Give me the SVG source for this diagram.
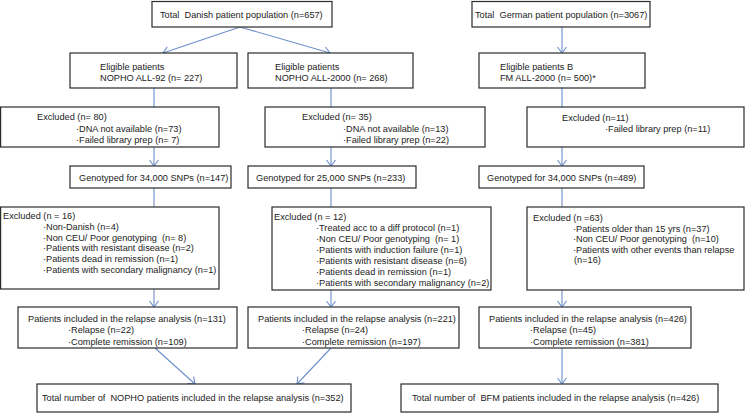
<svg xmlns="http://www.w3.org/2000/svg" width="745" height="413" viewBox="0 0 745 413" xml:space="preserve">
<style>
.box{fill:#fff;stroke:#2b2b2b;stroke-width:1.2}
text{font-family:"Liberation Sans",Arial,sans-serif;font-size:9.2px;fill:#222;white-space:pre}
.ln{stroke:#6d8fcc;stroke-width:1.1;fill:none}
.ar{marker-end:url(#arr)}
</style>
<defs>
<marker id="arr" markerUnits="userSpaceOnUse" markerWidth="12" markerHeight="12" viewBox="-8 -6 10 12" refX="0" refY="0" orient="auto">
<path d="M-6,-4.5 L0,0 L-6,4.5" fill="none" stroke="#6d8fcc" stroke-width="1.1"/>
</marker>
</defs>
<rect width="745" height="413" fill="#fff"/>
<g id="connectors">
<line class="ln ar" x1="240" y1="27" x2="163" y2="53"/>
<line class="ln ar" x1="240" y1="27" x2="330" y2="53"/>
<line class="ln ar" x1="562" y1="27" x2="562" y2="53"/>
<line class="ln" x1="154" y1="88" x2="154" y2="107"/>
<line class="ln" x1="331" y1="88" x2="331" y2="107"/>
<line class="ln" x1="562" y1="88" x2="562" y2="107"/>
<line class="ln ar" x1="154" y1="147" x2="154" y2="166"/>
<line class="ln ar" x1="331" y1="147" x2="331" y2="166"/>
<line class="ln ar" x1="562" y1="147" x2="562" y2="166"/>
<line class="ln" x1="154" y1="188" x2="154" y2="207"/>
<line class="ln" x1="331" y1="188" x2="331" y2="207"/>
<line class="ln" x1="562" y1="188" x2="562" y2="207"/>
<line class="ln ar" x1="154" y1="289" x2="154" y2="307"/>
<line class="ln ar" x1="331" y1="290" x2="331" y2="307"/>
<line class="ln ar" x1="562" y1="290" x2="562" y2="307"/>
<line class="ln ar" x1="155" y1="348" x2="195" y2="384"/>
<line class="ln ar" x1="331" y1="348" x2="297" y2="384"/>
<line class="ln ar" x1="562" y1="348" x2="562" y2="384"/>
</g>
<g id="danish_total"><rect class="box" x="152" y="1.5" width="180" height="25.5"/><text x="160" y="18">Total  Danish patient population (n=657)</text></g>
<g id="german_total"><rect class="box" x="472" y="1.5" width="178" height="25.5"/><text x="475" y="18">Total  German patient population (n=3067)</text></g>
<g id="elig92"><rect class="box" x="70" y="53" width="167" height="35"/><text x="100" y="70">Eligible patients</text><text x="100" y="81">NOPHO ALL-92 (n= 227)</text></g>
<g id="elig2000"><rect class="box" x="248" y="53" width="165" height="35"/><text x="275" y="70">Eligible patients</text><text x="275" y="81">NOPHO ALL-2000 (n= 268)</text></g>
<g id="eligB"><rect class="box" x="479" y="53" width="166" height="35"/><text x="500" y="70">Eligible patients B</text><text x="500" y="81">FM ALL-2000 (n= 500)*</text></g>
<g id="excl80"><rect class="box" x="0.6" y="107" width="218.4" height="40"/><text x="37" y="120">Excluded (n= 80)</text><text x="76" y="132">·DNA not available (n=73)</text><text x="76" y="143">·Failed library prep (n= 7)</text></g>
<g id="excl35"><rect class="box" x="265" y="107" width="220" height="40"/><text x="302" y="120">Excluded (n= 35)</text><text x="343" y="132">·DNA not available (n=13)</text><text x="343" y="143">·Failed library prep (n=22)</text></g>
<g id="excl11"><rect class="box" x="527" y="107" width="217" height="40"/><text x="562" y="121">Excluded (n=11)</text><text x="605" y="132">·Failed library prep (n=11)</text></g>
<g id="geno147"><rect class="box" x="70" y="166" width="161" height="22"/><text x="79" y="181">Genotyped for 34,000 SNPs (n=147)</text></g>
<g id="geno233"><rect class="box" x="248" y="166" width="168" height="22"/><text x="256" y="181">Genotyped for 25,000 SNPs (n=233)</text></g>
<g id="geno489"><rect class="box" x="479" y="166" width="165" height="22"/><text x="487" y="181">Genotyped for 34,000 SNPs (n=489)</text></g>
<g id="excl16"><rect class="box" x="0.6" y="207" width="218.4" height="82"/><text x="3" y="219">Excluded (n = 16)</text><text x="43" y="229.8">·Non-Danish (n=4)</text><text x="43" y="240.6">·Non CEU/ Poor genotyping  (n= 8)</text><text x="43" y="251.4">·Patients with resistant disease (n=2)</text><text x="43" y="262.2">·Patients dead in remission (n=1)</text><text x="43" y="273">·Patients with secondary malignancy (n=1)</text></g>
<g id="excl12"><rect class="box" x="272" y="207" width="219" height="83"/><text x="274" y="220">Excluded (n = 12)</text><text x="316" y="231">·Treated acc to a diff protocol (n=1)</text><text x="316" y="242">·Non CEU/ Poor genotyping  (n= 1)</text><text x="316" y="253">·Patients with induction failure (n=1)</text><text x="316" y="264">·Patients with resistant disease (n=6)</text><text x="316" y="275">·Patients dead in remission (n=1)</text><text x="316" y="286">·Patients with secondary malignancy (n=2)</text></g>
<g id="excl63"><rect class="box" x="527" y="207" width="217" height="83"/><text x="533" y="221">Excluded (n =63)</text><text x="573" y="231.5">·Patients older than 15 yrs (n=37)</text><text x="573" y="242">·Non CEU/ Poor genotyping  (n=10)</text><text x="573" y="252.5">·Patients with other events than relapse</text><text x="574" y="263">(n=16)</text></g>
<g id="incl131"><rect class="box" x="18" y="307" width="219" height="41"/><text x="28" y="321.5">Patients included in the relapse analysis (n=131)</text><text x="68" y="333">·Relapse (n=22)</text><text x="68" y="344.5">·Complete remission (n=109)</text></g>
<g id="incl221"><rect class="box" x="248" y="307" width="211" height="41"/><text x="258" y="321.5">Patients included in the relapse analysis (n=221)</text><text x="302" y="333">·Relapse (n=24)</text><text x="302" y="344.5">·Complete remission (n=197)</text></g>
<g id="incl426"><rect class="box" x="479" y="307" width="212" height="41"/><text x="489" y="321.5">Patients included in the relapse analysis (n=426)</text><text x="530" y="333">·Relapse (n=45)</text><text x="530" y="344.5">·Complete remission (n=381)</text></g>
<g id="total_nopho"><rect class="box" x="37" y="384" width="314" height="28"/><text x="42" y="401">Total number of  NOPHO patients included in the relapse analysis (n=352)</text></g>
<g id="total_bfm"><rect class="box" x="401" y="384" width="317" height="28"/><text x="412" y="401">Total number of  BFM patients included in the relapse analysis (n=426)</text></g>
</svg>
